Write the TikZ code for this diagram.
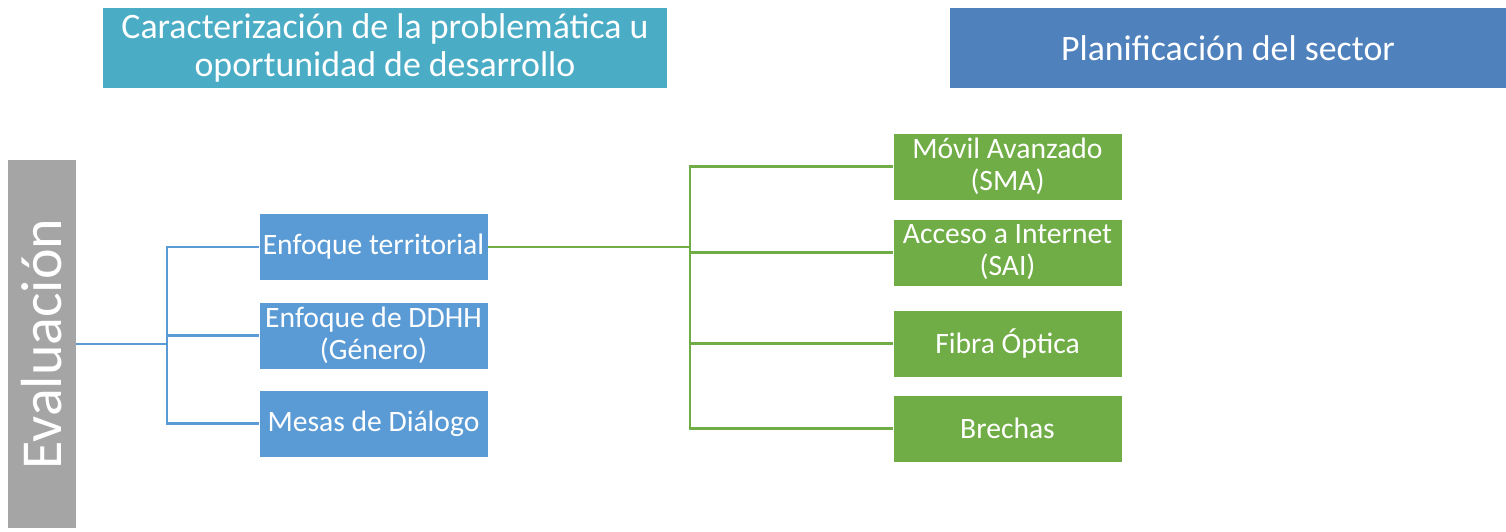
\documentclass[tikz,border=0pt]{standalone}
\usepackage{fontspec}
\setmainfont{Carlito}
\definecolor{tealhead}{HTML}{4BACC6}
\definecolor{bluehead}{HTML}{4F81BD}
\definecolor{evalgray}{HTML}{A5A5A5}
\definecolor{blueitem}{HTML}{5B9BD5}
\definecolor{greenitem}{HTML}{70AD47}
\begin{document}
\begin{tikzpicture}[x=0.5pt, y=-0.5pt,
	head/.style={rectangle, inner sep=0pt, text=white, align=center, font=\fontsize{17.9}{19.2}\selectfont, minimum height=40pt},
	item/.style={rectangle, inner sep=0pt, text=white, align=center, font=\fontsize{14.8}{16}\selectfont, minimum width=114.5pt, minimum height=33.5pt, draw=white, line width=0.4pt},
	bline/.style={blueitem, line width=1.3pt},
	gline/.style={greenitem, line width=1.3pt}]
	\useasboundingbox (0,0) rectangle (1506,531);
	% encabezados
	\node[head, fill=tealhead, minimum width=282pt] (carac) at (385,48) {Caracterización de la problemática u\\oportunidad de desarrollo};
	\node[head, fill=bluehead, minimum width=278pt] (plan) at (1228,48) {Planificación del sector};
	% barra lateral
	\node[rectangle, fill=evalgray, inner sep=0pt, minimum width=34pt, minimum height=184pt] (eval) at (42,344) {};
	\node[text=white, rotate=90, font=\fontsize{29}{32}\selectfont] (evaltxt) at (eval.center) {Evaluación};
	% enfoques
	\node[item, fill=blueitem] (terr) at (373.5,247) {Enfoque territorial};
	\node[item, fill=blueitem] (ddhh) at (373.5,335.5) {Enfoque de DDHH\\(Género)};
	\node[item, fill=blueitem] (mesas) at (373.5,423.5) {Mesas de Diálogo};
	% servicios
	\node[item, fill=greenitem] (sma) at (1007.5,166.5) {Móvil Avanzado\\(SMA)};
	\node[item, fill=greenitem] (sai) at (1007.5,252.5) {Acceso a Internet\\(SAI)};
	\node[item, fill=greenitem] (fibra) at (1007.5,343.5) {Fibra Óptica};
	\node[item, fill=greenitem] (brechas) at (1007.5,428.5) {Brechas};
	% conectores azules
	\coordinate (bj) at (167,344);
	\draw[bline] (eval.east) -- (bj); %tronco
	\draw[bline] (terr.west) -| (bj);
	\draw[bline] (mesas.west) -| (bj);
	\draw[bline] (ddhh.west) -- (ddhh.west -| bj);
	% conectores verdes
	\coordinate (gj) at (690,247);
	\draw[gline] (terr.east) -- (gj); %tronco
	\draw[gline] (sma.west) -| (gj);
	\draw[gline] (brechas.west) -| (gj);
	\draw[gline] (sai.west) -- (sai.west -| gj);
	\draw[gline] (fibra.west) -- (fibra.west -| gj);
\end{tikzpicture}
\end{document}
